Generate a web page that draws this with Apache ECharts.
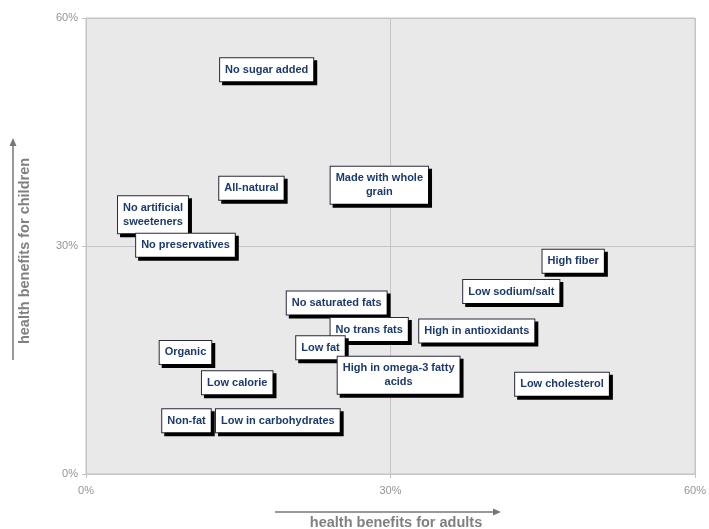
<!DOCTYPE html>
<html>
<head>
<meta charset="utf-8">
<script src="https://cdn.jsdelivr.net/npm/echarts@6/dist/echarts.min.js"></script>
<style>html,body{margin:0;padding:0;background:#fff;}#c{width:709px;height:529px;}</style>
</head>
<body>
<div id="c"></div>
<script>
var claims = ["No sugar added","All-natural","Made with whole\ngrain","No artificial\nsweeteners","No preservatives","High fiber","Low sodium/salt","No saturated fats","No trans fats","High in antioxidants","Low fat","High in omega-3 fatty\nacids","Low cholesterol","Organic","Low calorie","Non-fat","Low in carbohydrates"];
var adults =   [17.8, 16.3, 28.9, 6.6, 9.8, 48.0, 41.9, 24.7, 27.9, 38.5, 23.1, 30.8, 46.9, 9.8, 14.9, 9.9, 18.9];
var children = [53.2, 37.6, 38.0, 34.1, 30.1, 28.0, 24.0, 22.5, 19.0, 18.8, 16.6, 13.0, 11.8, 16.0, 12.0, 7.0, 7.0];
var axisTicks = [0, 30, 60];

var chart = echarts.init(document.getElementById('c'));
var pts = claims.map(function(n, i){ return {name: n, value: [adults[i], children[i]]}; });
var tickColor = '#959595';
chart.setOption({
  animation: false,
  grid: {left: 86, right: 12, top: 18, bottom: 55, show: true, backgroundColor: '#e9e9e9', borderColor: '#c4c4c4', borderWidth: 1},
  xAxis: {
    type: 'value', min: axisTicks[0], max: axisTicks[2], interval: axisTicks[1],
    axisLine: {show: true, lineStyle: {color: '#c4c4c4'}},
    axisTick: {show: true, length: 4, lineStyle: {color: '#c4c4c4'}},
    splitLine: {show: true, lineStyle: {color: '#c4c4c4', width: 1}},
    axisLabel: {formatter: '{value}%', color: tickColor, fontSize: 11, fontFamily: 'Liberation Sans, Arial', margin: 11}
  },
  yAxis: {
    type: 'value', min: axisTicks[0], max: axisTicks[2], interval: axisTicks[1],
    axisLine: {show: true, lineStyle: {color: '#c4c4c4'}},
    axisTick: {show: true, length: 4, lineStyle: {color: '#c4c4c4'}},
    splitLine: {show: true, lineStyle: {color: '#c4c4c4', width: 1}},
    axisLabel: {formatter: '{value}%', color: tickColor, fontSize: 11, fontFamily: 'Liberation Sans, Arial', margin: 8}
  },
  series: [{
    type: 'scatter',
    data: pts,
    symbolSize: 1,
    itemStyle: {color: 'rgba(0,0,0,0)', opacity: 1},
    label: {
      show: true, position: 'inside',
      formatter: function(p){ return p.name; },
      color: '#1c3a6e', fontSize: 11, fontWeight: 'bold', fontFamily: 'Liberation Sans, Arial',
      align: 'center', lineHeight: 14,
      backgroundColor: '#ffffff', borderColor: '#2a2a3a', borderWidth: 1,
      padding: [5, 5, 4, 5],
      shadowColor: '#000000', shadowOffsetX: 3, shadowOffsetY: 3, shadowBlur: 0
    }
  }],
  graphic: [
    {type: 'line', shape: {x1: 275, y1: 512, x2: 495, y2: 512}, style: {stroke: '#777', lineWidth: 1.5}},
    {type: 'polygon', shape: {points: [[501, 512], [493, 508.5], [493, 515.5]]}, style: {fill: '#777'}},
    {type: 'text', x: 396, y: 523, style: {text: 'health benefits for adults', fill: '#808080', font: 'bold 14.5px "Liberation Sans", Arial', align: 'center', verticalAlign: 'middle'}},
    {type: 'line', shape: {x1: 13, y1: 360, x2: 13, y2: 144}, style: {stroke: '#777', lineWidth: 1.5}},
    {type: 'polygon', shape: {points: [[13, 138], [9.5, 146], [16.5, 146]]}, style: {fill: '#777'}},
    {type: 'text', x: 25, y: 251, rotation: Math.PI / 2, style: {text: 'health benefits for children', fill: '#808080', font: 'bold 14.5px "Liberation Sans", Arial', align: 'center', verticalAlign: 'middle'}}
  ]
});
</script>
</body>
</html>
